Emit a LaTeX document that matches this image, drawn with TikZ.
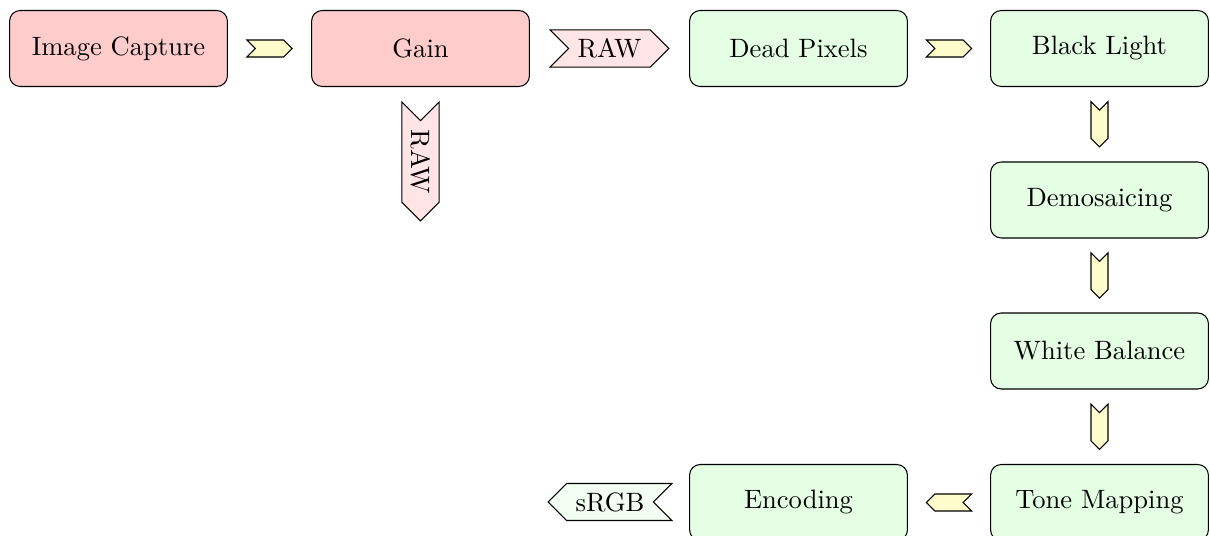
\documentclass[tikz,border=0pt]{standalone}
\usetikzlibrary{shapes.symbols}

\tikzset{
  stage/.style={draw,rounded corners,minimum width=82pt,minimum height=28.6pt},
  sensorstage/.style={stage,fill=red!20},
  ispstage/.style={stage,fill=green!10},
  flow/.style={draw,signal,signal to=east,signal from=west,fill=yellow!20,
    minimum width=17pt,minimum height=6.4pt,inner sep=0pt},
  rawdata/.style={draw,signal,signal to=east,signal from=west,fill=red!10},
  rgbdata/.style={draw,signal,signal to=west,signal from=east,fill=green!5},
}

\begin{document}
\begin{tikzpicture}

\useasboundingbox (0bp,0bp) rectangle (453.75bp,201bp);

% Node: Image Capture
\node[sensorstage] (capture) at (44.44bp,182.81bp) {Image Capture};

% Node: Gain
\node[sensorstage] (gain) at (157.69bp,182.81bp) {Gain};

% Node: Dead Pixels
\node[ispstage] (dead) at (299.44bp,182.81bp) {Dead Pixels};

% Node: Black Light
\node[ispstage] (black) at (412.31bp,182.81bp) {Black Light};

% Node: Demosaicing
\node[ispstage] (demosaic) at (412.31bp,126bp) {Demosaicing};

% Node: White Balance
\node[ispstage] (white) at (412.31bp,69.38bp) {White Balance};

% Node: Tone Mapping
\node[ispstage] (tone) at (412.31bp,12.56bp) {Tone Mapping};

% Node: Encoding
\node[ispstage] (encode) at (299.44bp,12.56bp) {Encoding};

% Edge: Image Capture -> Gain
\path (capture) -- node[flow] (f1) {} (gain);

% Edge: Gain -> Dead Pixels
\path (gain) -- node[rawdata] (raw1) {RAW} (dead);

% Edge: Gain -> (raw out)
\node[rawdata,rotate=-90] (raw2) at (157.69bp,140.44bp) {RAW};

% Edge: Dead Pixels -> Black Light
\path (dead) -- node[flow] (f2) {} (black);

% Edge: Black Light -> Demosaicing
\path (black) -- node[flow,rotate=-90] (f3) {} (demosaic);

% Edge: Demosaicing -> White Balance
\path (demosaic) -- node[flow,rotate=-90] (f4) {} (white);

% Edge: White Balance -> Tone Mapping
\path (white) -- node[flow,rotate=-90] (f5) {} (tone);

% Edge: Tone Mapping -> Encoding
\path (tone) -- node[flow,rotate=180] (f6) {} (encode);

% Edge: Encoding -> (sRGB out)
\node[rgbdata] (srgb) at (228.75bp,12.75bp) {sRGB};

\end{tikzpicture}
\end{document}
